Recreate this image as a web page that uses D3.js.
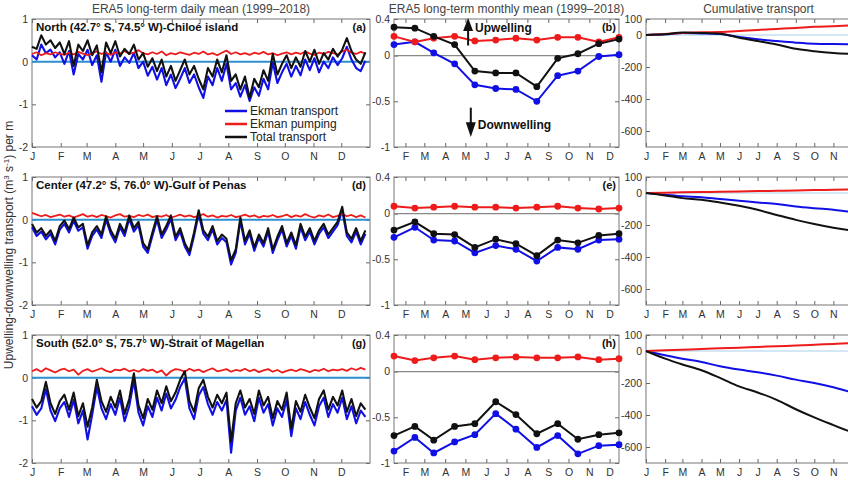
<!DOCTYPE html>
<html>
<head>
<meta charset="utf-8">
<script src="https://cdn.jsdelivr.net/npm/d3@7"></script>
<style>
body { margin: 0; background: #fff; }
text { font-family: "Liberation Sans", Arial, Helvetica, sans-serif; }
</style>
</head>
<body>
<div id="chart"></div>
<script>
// ---- data ----
const months = ["J","F","M","A","M","J","J","A","S","O","N","D"];
const monthStart = [1,32,60,91,121,152,182,213,244,274,305,335];
const monthMid = [15,46,74,105,135,166,196,227,258,288,319,349];
const cumDays = [1,32,60,91,121,152,182,213,244,274,305,335,365];
const cumMonths = ["J","F","M","A","M","J","J","A","S","O","N",""]; // D falls outside the cropped figure
const dailyStep = 5; // one value every 5 days, starting 1 Jan

const regions = ["North (42.7° S, 74.5° W)-Chiloé island", "Center (47.2° S, 76.0° W)-Gulf of Penas", "South (52.0° S, 75.7° W)-Strait of Magellan"];
const dailyTags = ["(a)","(d)","(g)"];
const monthlyTags = ["(b)","(e)","(h)"];

// daily means
const northDailyTotal = [0.35,0.30,0.62,0.40,0.50,0.32,0.45,0.18,0.48,-0.10,0.40,0.25,0.50,0.15,0.38,-0.25,0.45,0.20,0.48,0.12,0.30,0.18,0.40,0.05,0.20,-0.12,0.08,-0.22,0.05,-0.35,-0.10,-0.45,-0.20,0.05,-0.30,-0.10,-0.40,-0.65,-0.15,-0.35,0.05,-0.25,0.15,-0.45,-0.30,-0.65,-0.35,-0.85,-0.40,-0.60,-0.20,-0.45,0.18,-0.30,-0.05,0.15,-0.15,0.10,-0.12,0.25,0.00,0.28,-0.05,0.20,0.05,0.30,0.12,0.28,0.55,0.25,0.05,-0.05,0.22];
const northDailyEkman = [0.15,0.05,0.40,0.20,0.28,0.10,0.22,-0.05,0.25,-0.30,0.18,0.05,0.28,-0.08,0.15,-0.47,0.22,0.00,0.28,-0.10,0.10,-0.03,0.20,-0.15,0.00,-0.33,-0.12,-0.42,-0.15,-0.55,-0.30,-0.62,-0.40,-0.15,-0.50,-0.30,-0.60,-0.85,-0.35,-0.55,-0.15,-0.45,-0.05,-0.65,-0.50,-0.82,-0.55,-0.92,-0.60,-0.80,-0.40,-0.65,-0.02,-0.50,-0.25,-0.05,-0.35,-0.10,-0.32,0.05,-0.20,0.08,-0.25,0.00,-0.15,0.10,-0.08,0.08,0.35,0.05,-0.15,-0.22,0.02];
const northDailyPumping = [0.18,0.22,0.15,0.20,0.17,0.22,0.18,0.16,0.21,0.17,0.23,0.19,0.15,0.20,0.24,0.18,0.21,0.16,0.22,0.19,0.25,0.18,0.21,0.27,0.20,0.17,0.22,0.18,0.24,0.15,0.20,0.17,0.22,0.19,0.16,0.21,0.18,0.24,0.17,0.20,0.15,0.21,0.26,0.18,0.22,0.17,0.20,0.16,0.21,0.18,0.23,0.17,0.20,0.15,0.19,0.22,0.17,0.21,0.18,0.24,0.19,0.16,0.21,0.18,0.23,0.20,0.17,0.24,0.28,0.21,0.18,0.23,0.19];

const centerDailyTotal = [-0.10,-0.30,-0.20,-0.38,-0.25,-0.50,-0.15,-0.02,-0.22,0.05,-0.18,-0.10,-0.60,-0.30,-0.15,-0.35,0.08,-0.25,-0.45,-0.10,-0.30,0.10,-0.20,-0.05,-0.55,-0.70,-0.30,0.08,-0.35,-0.15,0.10,-0.40,-0.20,-0.55,-0.75,-0.30,0.22,-0.25,-0.40,-0.15,-0.50,-0.35,-0.45,-0.95,-0.70,0.05,-0.50,-0.25,-0.65,-0.35,-0.55,-0.20,-0.70,-0.40,-0.15,-0.55,-0.30,-0.60,-0.10,-0.40,-0.20,-0.50,-0.25,-0.10,-0.35,-0.20,-0.05,0.30,-0.30,-0.45,-0.20,-0.50,-0.25];
const centerDailyEkman = [-0.18,-0.38,-0.28,-0.46,-0.33,-0.58,-0.23,-0.10,-0.30,-0.03,-0.26,-0.18,-0.68,-0.38,-0.23,-0.43,0.00,-0.33,-0.53,-0.18,-0.38,0.02,-0.28,-0.13,-0.63,-0.78,-0.38,0.00,-0.43,-0.23,0.02,-0.48,-0.28,-0.63,-0.83,-0.38,0.14,-0.33,-0.48,-0.23,-0.58,-0.43,-0.53,-1.05,-0.78,-0.03,-0.58,-0.33,-0.73,-0.43,-0.63,-0.28,-0.78,-0.48,-0.23,-0.63,-0.38,-0.68,-0.18,-0.48,-0.28,-0.58,-0.33,-0.18,-0.43,-0.28,-0.13,0.22,-0.38,-0.53,-0.28,-0.58,-0.33];
const centerDailyPumping = [0.16,0.12,0.08,0.11,0.06,0.09,0.12,0.07,0.10,0.05,0.09,0.13,0.07,0.10,0.06,0.11,0.08,0.05,0.10,0.13,0.07,0.09,0.06,0.11,0.08,0.12,0.06,0.09,0.07,0.11,0.05,0.08,0.12,0.07,0.10,0.06,0.09,0.13,0.07,0.10,0.05,0.09,0.07,0.11,0.06,0.08,0.12,0.07,0.10,0.05,0.09,0.07,0.11,0.06,0.08,0.12,0.06,0.10,0.07,0.13,0.08,0.05,0.10,0.07,0.12,0.06,0.09,0.14,0.08,0.11,0.06,0.10,0.05];

const southDailyTotal = [-0.50,-0.70,-0.55,-0.10,-0.60,-0.85,-0.55,-0.40,-0.75,-0.35,-0.90,-0.60,-1.15,-0.70,-0.05,-0.55,-0.80,-0.45,-0.70,-0.30,-0.85,-0.50,0.10,-0.65,-0.95,-0.50,-0.75,-0.30,-0.60,-0.20,-0.55,-0.35,-0.05,0.15,-0.55,-0.80,-0.25,-0.05,-0.45,-0.70,-0.40,-0.60,-0.35,-1.50,-0.60,-0.30,-0.70,-0.50,-0.85,-0.30,-0.65,-0.45,-0.95,-0.55,-0.75,-0.35,-1.20,-0.55,-0.80,-0.40,-0.70,-0.95,-0.50,-0.30,-0.75,-0.45,-0.65,-0.30,-0.80,-0.50,-0.90,-0.60,-0.75];
const southDailyEkman = [-0.67,-0.87,-0.72,-0.27,-0.77,-1.02,-0.72,-0.57,-0.92,-0.52,-1.07,-0.77,-1.45,-0.87,-0.22,-0.72,-0.97,-0.62,-0.87,-0.47,-1.02,-0.67,-0.07,-0.82,-1.12,-0.67,-0.92,-0.47,-0.77,-0.37,-0.72,-0.52,-0.22,-0.02,-0.72,-0.97,-0.42,-0.22,-0.62,-0.87,-0.57,-0.77,-0.52,-1.76,-0.77,-0.47,-0.87,-0.67,-1.02,-0.47,-0.82,-0.62,-1.12,-0.72,-0.92,-0.52,-1.37,-0.72,-0.97,-0.57,-0.87,-1.12,-0.67,-0.47,-0.92,-0.62,-0.82,-0.47,-0.97,-0.67,-1.07,-0.77,-0.92];
const southDailyPumping = [0.15,0.20,0.14,0.22,0.17,0.12,0.18,0.21,0.15,0.19,0.07,0.16,0.20,0.14,0.18,0.22,0.16,0.13,0.19,0.17,0.21,0.15,0.18,0.14,0.20,0.16,0.19,0.12,0.17,0.05,0.15,0.20,0.18,0.14,0.21,0.16,0.19,0.13,0.18,0.22,0.15,0.17,0.20,0.14,0.18,0.16,0.21,0.15,0.19,0.13,0.17,0.20,0.14,0.18,0.12,0.16,0.19,0.15,0.20,0.17,0.13,0.18,0.16,0.21,0.15,0.19,0.17,0.20,0.16,0.22,0.18,0.23,0.19];

// monthly means
const northMonthlyTotal = [0.31,0.30,0.21,0.12,-0.17,-0.19,-0.19,-0.34,-0.03,0.02,0.13,0.18];
const northMonthlyEkman = [0.12,0.15,0.03,-0.09,-0.32,-0.36,-0.37,-0.50,-0.22,-0.17,-0.01,0.01];
const northMonthlyPumping = [0.21,0.15,0.19,0.21,0.16,0.17,0.19,0.17,0.20,0.20,0.15,0.20];
const centerMonthlyTotal = [-0.18,-0.09,-0.22,-0.23,-0.37,-0.28,-0.33,-0.46,-0.29,-0.32,-0.24,-0.22];
const centerMonthlyEkman = [-0.26,-0.15,-0.29,-0.30,-0.43,-0.35,-0.39,-0.52,-0.37,-0.39,-0.29,-0.28];
const centerMonthlyPumping = [0.08,0.06,0.07,0.08,0.07,0.07,0.06,0.07,0.08,0.06,0.05,0.06];
const southMonthlyTotal = [-0.70,-0.60,-0.75,-0.60,-0.57,-0.33,-0.47,-0.68,-0.57,-0.74,-0.69,-0.67];
const southMonthlyEkman = [-0.87,-0.72,-0.89,-0.77,-0.69,-0.46,-0.63,-0.83,-0.70,-0.90,-0.81,-0.80];
const southMonthlyPumping = [0.17,0.12,0.15,0.17,0.13,0.15,0.16,0.15,0.15,0.16,0.13,0.14];

// cumulative transport
const northCumTotal = [0,4,15,13,8,-17,-38,-59,-86,-101,-112,-118,-122];
const northCumEkman = [0,4,12,10,6,-13,-27,-38,-48,-55,-57,-58,-58];
const northCumPumping = [0,6,13,17,19,25,32,38,44,51,55,60,66];
const centerCumTotal = [0,-15,-32,-42,-59,-80,-105,-137,-168,-194,-217,-235,-245];
const centerCumEkman = [0,-11,-21,-27,-38,-48,-59,-69,-84,-95,-105,-118,-125];
const centerCumPumping = [0,2,4,6,8,10,12,14,16,18,20,22,24];
const southCumTotal = [0,-48,-84,-120,-168,-221,-259,-305,-364,-415,-463,-508,-550];
const southCumEkman = [0,-27,-48,-69,-95,-116,-133,-154,-179,-200,-227,-258,-280];
const southCumPumping = [0,4,8,13,17,21,25,30,34,39,44,49,53];

const dailySets = [
  [northDailyEkman, northDailyPumping, northDailyTotal],
  [centerDailyEkman, centerDailyPumping, centerDailyTotal],
  [southDailyEkman, southDailyPumping, southDailyTotal]];
const monthlySets = [
  [northMonthlyEkman, northMonthlyPumping, northMonthlyTotal],
  [centerMonthlyEkman, centerMonthlyPumping, centerMonthlyTotal],
  [southMonthlyEkman, southMonthlyPumping, southMonthlyTotal]];
const cumSets = [
  [northCumEkman, northCumPumping, northCumTotal],
  [centerCumEkman, centerCumPumping, centerCumTotal],
  [southCumEkman, southCumPumping, southCumTotal]];

const seriesNames = ["Ekman transport", "Ekman pumping", "Total transport"];
const seriesColors = ["#1010e6", "#ee1b1b", "#111111"];

// ---- layout ----
const W = 848, H = 481;
const rowTops = [19, 177, 335], rowH = 128;
const dailyX = [32, 370], monthlyX = [394, 619], cumX = [646, 871];

const svg = d3.select("#chart").append("svg")
  .attr("width", W).attr("height", H);

// draws the box, inward ticks and tick labels of one panel
function frame(x, y, xt, xl, yt, top, bottom) {
  const g = svg.append("g");
  const [x0, x1] = x.range();
  g.append("g").attr("transform", `translate(${x0},0)`)
    .call(d3.axisLeft(y).tickValues(yt).tickSize(-4).tickPadding(4).tickFormat(d => String(d)));
  g.append("g").attr("transform", `translate(${x1},0)`)
    .call(d3.axisRight(y).tickValues(yt).tickSize(-4).tickFormat(""));
  g.append("g").attr("transform", `translate(0,${bottom})`)
    .call(d3.axisBottom(x).tickValues(xt).tickSize(-4).tickPadding(6).tickFormat((d, i) => xl[i]));
  g.append("g").attr("transform", `translate(0,${top})`)
    .call(d3.axisTop(x).tickValues(xt).tickSize(-4).tickFormat(""));
  g.selectAll(".domain").remove();
  g.selectAll(".tick line").attr("stroke", "#666");
  g.selectAll(".tick text").attr("fill", "#333").style("font-size", "10.5px");
  g.append("rect")
    .attr("x", x0).attr("y", top).attr("width", x1 - x0).attr("height", bottom - top)
    .attr("fill", "none").attr("stroke", "#777").attr("stroke-width", 1);
  return g;
}

rowTops.forEach(function(top, r) {
  const bottom = top + rowH;

  // daily panel
  const xd = d3.scaleLinear().domain([1, 366]).range(dailyX);
  const yd = d3.scaleLinear().domain([-2, 1]).range([bottom, top]);
  frame(xd, yd, monthStart, months, [-2, -1, 0, 1], top, bottom);
  svg.append("line")
    .attr("x1", xd(1)).attr("x2", xd(366)).attr("y1", yd(0)).attr("y2", yd(0))
    .attr("stroke", "#2d8fd0").attr("stroke-width", 2);
  dailySets[r].forEach(function(vals, s) {
    svg.append("path")
      .datum(vals)
      .attr("d", d3.line().x((d, i) => xd(1 + i * dailyStep)).y(d => yd(d)))
      .attr("fill", "none").attr("stroke", seriesColors[s])
      .attr("stroke-width", s == 1 ? 1.8 : 2.1).attr("stroke-linejoin", "round");
  });
  svg.append("text").attr("x", xd(1) + 4).attr("y", top + 12)
    .attr("font-weight", "bold").style("font-size", "11.5px").attr("fill", "#111")
    .text(regions[r]);
  svg.append("text").attr("x", dailyX[1] - 4).attr("y", top + 12)
    .attr("text-anchor", "end").attr("font-weight", "bold").style("font-size", "11px").attr("fill", "#111")
    .text(dailyTags[r]);

  // monthly panel
  const xm = d3.scaleLinear().domain([15, 349]).range(monthlyX);
  const ym = d3.scaleLinear().domain([-1, 0.4]).range([bottom, top]);
  frame(xm, ym, monthStart.slice(1), months.slice(1), [-1, -0.5, 0, 0.4], top, bottom);
  svg.append("line")
    .attr("x1", monthlyX[0]).attr("x2", monthlyX[1]).attr("y1", ym(0)).attr("y2", ym(0))
    .attr("stroke", "#888").attr("stroke-width", 1.2);
  monthlySets[r].forEach(function(vals, s) {
    svg.append("path")
      .datum(vals)
      .attr("d", d3.line().x((d, i) => xm(monthMid[i])).y(d => ym(d)))
      .attr("fill", "none").attr("stroke", seriesColors[s]).attr("stroke-width", 2);
    svg.append("g").selectAll("circle")
      .data(vals)
      .join("circle")
      .attr("cx", (d, i) => xm(monthMid[i]))
      .attr("cy", d => ym(d))
      .attr("r", 3.4)
      .attr("fill", seriesColors[s]);
  });
  svg.append("text").attr("x", monthlyX[1] - 3).attr("y", top + 12)
    .attr("text-anchor", "end").attr("font-weight", "bold").style("font-size", "11px").attr("fill", "#111")
    .text(monthlyTags[r]);

  if (r == 0) {
    // up / down arrows
    const ax = xm(125);
    svg.append("line").attr("x1", ax).attr("x2", ax).attr("y1", ym(0.11)).attr("y2", ym(0.3))
      .attr("stroke", "#111").attr("stroke-width", 2);
    svg.append("path")
      .attr("d", `M${ax - 5},${ym(0.27)} L${ax},${ym(0.41)} L${ax + 5},${ym(0.27)} Z`)
      .attr("fill", "#111");
    svg.append("text").attr("x", ax + 7).attr("y", ym(0.26))
      .attr("font-weight", "bold").style("font-size", "12px").attr("fill", "#111").text("Upwelling");
    const bx = xm(129);
    svg.append("line").attr("x1", bx).attr("x2", bx).attr("y1", ym(-0.57)).attr("y2", ym(-0.75))
      .attr("stroke", "#111").attr("stroke-width", 2);
    svg.append("path")
      .attr("d", `M${bx - 5},${ym(-0.73)} L${bx},${ym(-0.89)} L${bx + 5},${ym(-0.73)} Z`)
      .attr("fill", "#111");
    svg.append("text").attr("x", bx + 7).attr("y", ym(-0.8))
      .attr("font-weight", "bold").style("font-size", "12px").attr("fill", "#111").text("Downwelling");
  }

  // cumulative panel (runs past the right edge, as in the cropped figure)
  const xc = d3.scaleLinear().domain([1, 366]).range(cumX);
  const yc = d3.scaleLinear().domain([-700, 100]).range([bottom, top]);
  frame(xc, yc, monthStart, cumMonths, [-600, -400, -200, 0, 100], top, bottom);
  svg.append("line")
    .attr("x1", cumX[0]).attr("x2", cumX[1]).attr("y1", yc(0)).attr("y2", yc(0))
    .attr("stroke", "#a8d0ea").attr("stroke-width", 1.2);
  cumSets[r].forEach(function(vals, s) {
    svg.append("path")
      .datum(vals)
      .attr("d", d3.line().curve(d3.curveMonotoneX).x((d, i) => xc(cumDays[i])).y(d => yc(d)))
      .attr("fill", "none").attr("stroke", seriesColors[s]).attr("stroke-width", 2);
  });
});

// legend in panel (a)
const legend = svg.append("g");
seriesNames.forEach(function(name, s) {
  const ly = 111 + s * 13;
  legend.append("line").attr("x1", 225).attr("x2", 247).attr("y1", ly).attr("y2", ly)
    .attr("stroke", seriesColors[s]).attr("stroke-width", 2.5);
  legend.append("text").attr("x", 250).attr("y", ly + 4)
    .style("font-size", "12px").attr("fill", "#222").text(name);
});

// column titles
const titles = [["ERA5 long-term daily mean (1999\u20132018)", dailyX],
                ["ERA5 long-term monthly mean (1999\u20132018)", monthlyX],
                ["Cumulative transport", [cumX[0], 871]]];
titles.forEach(function(t) {
  svg.append("text").attr("x", (t[1][0] + t[1][1]) / 2).attr("y", 13)
    .attr("text-anchor", "middle").style("font-size", "12px").attr("fill", "#444").text(t[0]);
});

// y axis label
const yl = svg.append("text")
  .attr("transform", "translate(13,245) rotate(-90)")
  .attr("text-anchor", "middle").style("font-size", "12px").attr("fill", "#333");
yl.append("tspan").text("Upwelling-downwelling transport (m");
yl.append("tspan").attr("dy", -4).style("font-size", "8px").text("3");
yl.append("tspan").attr("dy", 4).text(" s");
yl.append("tspan").attr("dy", -4).style("font-size", "8px").text("-1");
yl.append("tspan").attr("dy", 4).text(") per m");
</script>
</body>
</html>
